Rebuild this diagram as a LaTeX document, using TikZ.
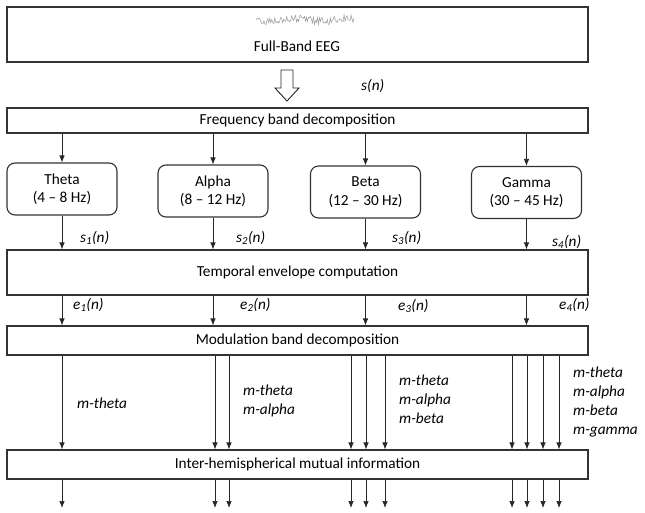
\documentclass[tikz,border=0pt]{standalone}
\usepackage{fontspec}
\setmainfont{Carlito}
\usetikzlibrary{arrows.meta}
\begin{document}
\begin{tikzpicture}[x=1pt,y=-1pt,
  box/.style={draw=black!80, line width=1.2pt, minimum width=581pt, inner sep=0pt},
  band/.style={draw=black!80, line width=1.1pt, rounded corners=8pt, minimum width=110pt, minimum height=52pt, align=center, inner sep=0pt},
  txt/.style={font=\fontsize{15.3}{18.5}\selectfont},
  lab/.style={font=\fontsize{15.3}{19}\selectfont\itshape, anchor=west, align=left, inner sep=0pt},
  arr/.style={draw=black!85, line width=0.7pt, -{Latex[length=7pt,width=5.5pt]}}]
\useasboundingbox (0,0) rectangle (645,512);
% boxes
\node[box, minimum height=55pt] (eeg) at (297.5,34.5) {};
\node[txt] (eegt) at (297,46) {Full-Band EEG};
\pgfmathsetseed{11}
\draw[black!40, line width=0.5pt] plot[domain=256:354, samples=100] (\x, {20 + 1.5*sin(\x*7) + 4*rand});
\node[box, minimum height=25pt, txt] (freq) at (297.5,120.5) {Frequency band decomposition};
% hollow arrow
\draw[black!85, line width=0.9pt, fill=white] (281,70) -- (293,70) -- (293,88) -- (299,88) -- (287,101) -- (275,88) -- (281,88) -- cycle;
\node[lab] (sn) at (361,86) {s(n)};
% bands
\node[band, txt] (theta) at (62,189) {Theta\\(4 – 8 Hz)};
\node[band, txt] (alpha) at (213,191) {Alpha\\(8 – 12 Hz)};
\node[band, txt] (beta) at (365.5,192) {Beta\\(12 – 30 Hz)};
\node[band, txt] (gamma) at (526.5,192.5) {Gamma\\(30 – 45 Hz)};
\foreach \b in {theta,alpha,beta,gamma}{
  \draw[arr] (freq.south -| \b.north) -- (\b.north);
}
\node[box, minimum height=45pt, txt] (temp) at (297.5,272.5) {Temporal envelope computation};
\foreach \b in {theta,alpha,beta,gamma}{
  \draw[arr] (\b.south) -- (temp.north -| \b.south);
}
\node[lab] (s1) at (80,238) {s\textsubscript{1}(n)};
\node[lab] (s2) at (236,238) {s\textsubscript{2}(n)};
\node[lab] (s3) at (392,238) {s\textsubscript{3}(n)};
\node[lab] (s4) at (552,242) {s\textsubscript{4}(n)};
\node[box, minimum height=29pt, txt] (mod) at (297.5,340.5) {Modulation band decomposition};
\foreach \b in {theta,alpha,beta,gamma}{
  \draw[arr] (temp.south -| \b.south) -- (mod.north -| \b.south);
}
\node[lab] (e1) at (73,305) {e\textsubscript{1}(n)};
\node[lab] (e2) at (240,305) {e\textsubscript{2}(n)};
\node[lab] (e3) at (398,306) {e\textsubscript{3}(n)};
\node[lab] (e4) at (559,305) {e\textsubscript{4}(n)};
\node[box, minimum height=29pt, txt] (ihmi) at (297.5,464.5) {Inter-hemispherical mutual information};
\foreach \n/\xx in {c1/62, c2/215, c3/229, c4/351, c5/366, c6/385, c7/512, c8/527, c9/543, c10/559}{
  \coordinate (\n) at (\xx,0);
  \coordinate (\n o) at (\xx,508);
  \draw[arr] (mod.south -| \n) -- (ihmi.north -| \n);
  \draw[arr] (ihmi.south -| \n) -- (\n o);
}
\node[lab] (m1) at (77,403) {m-theta};
\node[lab] (m2) at (243,401) {m-theta\\m-alpha};
\node[lab] (m3) at (399,399) {m-theta\\m-alpha\\m-beta};
\node[lab] (m4) at (573,402) {m-theta\\m-alpha\\m-beta\\m-gamma};
\end{tikzpicture}
\end{document}
